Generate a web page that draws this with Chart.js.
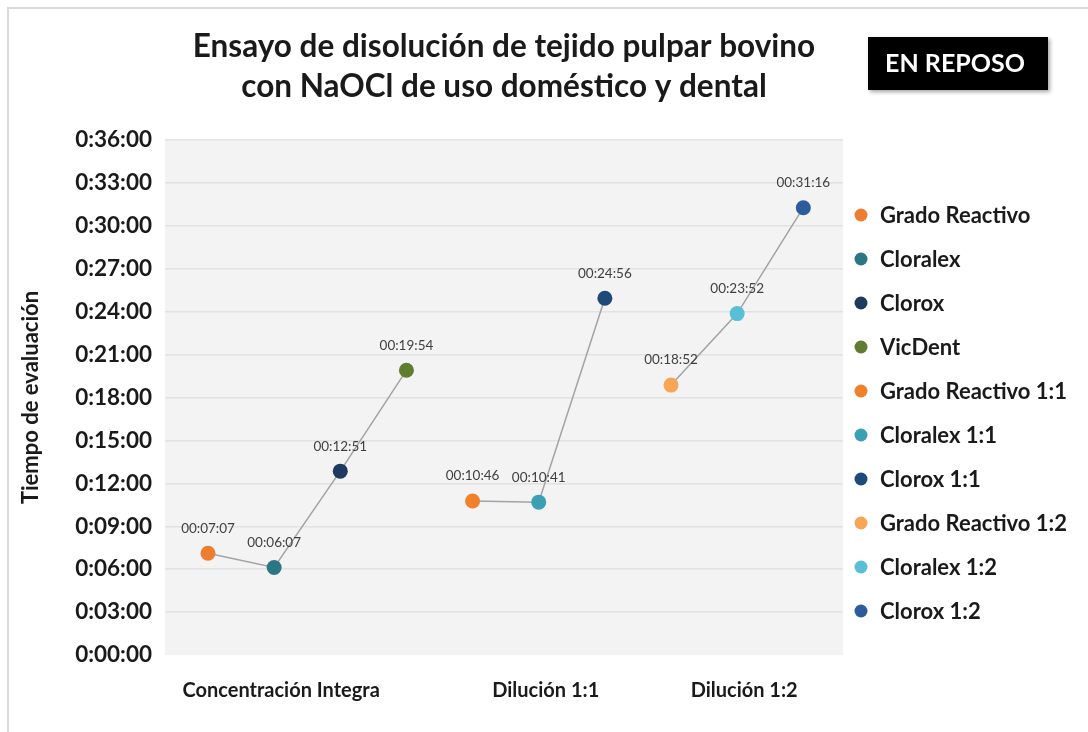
<!DOCTYPE html>
<html>
<head>
<meta charset="utf-8">
<script src="https://cdn.jsdelivr.net/npm/chart.js@4.4.1/dist/chart.umd.min.js"></script>
<style>
  html, body { margin:0; padding:0; background:#fff; }
  #wrap { position:relative; width:1088px; height:732px; }
</style>
</head>
<body>
<div id="wrap"><canvas id="chart"></canvas></div>
<script>
// Datos
const series = ["Grado Reactivo", "Cloralex", "Clorox", "VicDent",
  "Grado Reactivo 1:1", "Cloralex 1:1", "Clorox 1:1",
  "Grado Reactivo 1:2", "Cloralex 1:2", "Clorox 1:2"];
const tiempos = ["00:07:07", "00:06:07", "00:12:51", "00:19:54",
  "00:10:46", "00:10:41", "00:24:56",
  "00:18:52", "00:23:52", "00:31:16"];
const grupo = [0, 0, 0, 0, 1, 1, 1, 2, 2, 2];
const grupos = ["Concentración Integra", "Dilución 1:1", "Dilución 1:2"];
const colores = ["#ED7D31", "#2A7683", "#1F3A5F", "#5E7D31",
  "#EE8129", "#3CA0B5", "#1E4A7A",
  "#F6A656", "#59BFD6", "#2C5C9A"];
const yTicksMax = 36 * 60, yTicksStep = 3 * 60;

const FONT = "Lato";
const toSec = t => t.split(":").reduce((a, v) => a * 60 + Number(v), 0);
const fmtTick = v => Math.floor(v / 3600) + ":" +
  String(Math.floor(v % 3600 / 60)).padStart(2, "0") + ":" + String(v % 60).padStart(2, "0");

// un dataset por punto (leyenda) + una linea gris por grupo
const datasets = series.map((s, i) => ({
  label: s,
  data: [{ x: i, y: toSec(tiempos[i]) }],
  showLine: false,
  pointRadius: 7.5,
  pointHoverRadius: 7.5,
  pointBackgroundColor: colores[i],
  pointBorderWidth: 0,
  backgroundColor: colores[i],
  order: 0,
  etiqueta: tiempos[i]
}));
grupos.forEach((g, k) => {
  datasets.push({
    label: "_linea" + k,
    data: series.map((s, i) => ({ x: i, y: toSec(tiempos[i]) })).filter((p, i) => grupo[i] === k),
    showLine: true,
    borderColor: "#A3A3A3",
    borderWidth: 1.5,
    pointRadius: 0,
    order: 1
  });
});

const fondo = {
  id: "fondo",
  beforeDraw(chart) {
    const { ctx, chartArea: a } = chart;
    ctx.save();
    ctx.fillStyle = "#fff";
    ctx.fillRect(0, 0, chart.width, chart.height);
    ctx.strokeStyle = "#DADADA";
    ctx.lineWidth = 2;
    ctx.beginPath();
    ctx.moveTo(8, chart.height); ctx.lineTo(8, 8); ctx.lineTo(chart.width, 8);
    ctx.stroke();
    ctx.fillStyle = "#F3F3F3";
    ctx.fillRect(a.left, a.top, a.right - a.left, a.bottom - a.top);
    ctx.restore();
  }
};

const etiquetas = {
  id: "etiquetas",
  afterDatasetsDraw(chart) {
    const ctx = chart.ctx;
    ctx.save();
    ctx.font = "13.5px " + FONT;
    ctx.fillStyle = "#404040";
    ctx.textAlign = "center";
    ctx.textBaseline = "middle";
    chart.data.datasets.forEach((d, i) => {
      if (!d.etiqueta) return;
      const p = chart.getDatasetMeta(i).data[0];
      ctx.fillText(d.etiqueta, p.x, p.y - 25);
    });
    ctx.restore();
  }
};

const leyenda = {
  id: "leyenda",
  afterDraw(chart) {
    const ctx = chart.ctx;
    const x0 = chart.chartArea.right + 18, y0 = 215, paso = 44;
    ctx.save();
    ctx.font = "bold 22px " + FONT;
    ctx.textBaseline = "middle";
    ctx.textAlign = "left";
    chart.data.datasets.filter(d => d.etiqueta).forEach((d, i) => {
      const y = y0 + i * paso;
      ctx.fillStyle = d.backgroundColor;
      ctx.beginPath();
      ctx.arc(x0, y, 6.5, 0, Math.PI * 2);
      ctx.fill();
      ctx.fillStyle = "#1A1A1A";
      ctx.fillText(d.label, x0 + 19, y + 1);
    });
    // recuadro "EN REPOSO"
    ctx.save();
    ctx.shadowColor = "rgba(0,0,0,0.35)";
    ctx.shadowBlur = 4;
    ctx.shadowOffsetX = 2;
    ctx.shadowOffsetY = 2;
    ctx.fillStyle = "#000";
    ctx.fillRect(868, 37, 180, 53);
    ctx.restore();
    ctx.fillStyle = "#fff";
    ctx.font = "bold 25px " + FONT;
    ctx.textAlign = "center";
    ctx.fillText("EN REPOSO", 955, 64);
    ctx.restore();
  }
};

new Chart(document.getElementById("chart"), {
  type: "scatter",
  data: { datasets },
  plugins: [fondo, etiquetas, leyenda],
  options: {
    responsive: true,
    maintainAspectRatio: false,
    animation: false,
    events: [],
    layout: { padding: { left: 0, right: 245, top: 0, bottom: 0 } },
    plugins: {
      legend: { display: false },
      tooltip: { enabled: false },
      title: {
        display: true,
        fullSize: false,
        text: ["Ensayo de disolución de tejido pulpar bovino", "con NaOCl de uso doméstico y dental"],
        color: "#1A1A1A",
        font: { family: FONT, size: 31.5, weight: "bold", lineHeight: 40 / 31.5 },
        padding: { top: 27, bottom: 33 }
      }
    },
    scales: {
      x: {
        type: "linear",
        min: -0.65,
        max: 9.6,
        grid: { display: false },
        border: { display: false },
        afterFit: s => { s.height = 77; },
        afterBuildTicks: s => {
          s.ticks = grupos.map((g, k) => {
            const idx = grupo.map((v, i) => v === k ? i : null).filter(v => v !== null);
            return { value: Math.floor(idx.reduce((a, b) => a + b, 0) / idx.length), label: g };
          });
        },
        ticks: {
          padding: 16,
          labelOffset: 7,
          color: "#1A1A1A",
          font: { family: FONT, size: 20, weight: "bold" },
          callback: function (v) {
            const k = this.ticks.findIndex(t => t.value === v);
            return k >= 0 ? this.ticks[k].label : "";
          }
        }
      },
      y: {
        min: 0,
        max: yTicksMax,
        afterFit: s => { s.width = 165; },
        border: { display: false },
        grid: {
          drawTicks: false,
          lineWidth: 1.5,
          color: c => c.tick.value === 0 ? "rgba(0,0,0,0)" : "#E2E2E2"
        },
        ticks: {
          stepSize: yTicksStep,
          padding: 13,
          color: "#1A1A1A",
          font: { family: FONT, size: 22.5, weight: "bold" },
          callback: v => fmtTick(v)
        },
        title: {
          display: true,
          text: "Tiempo de evaluación",
          color: "#1A1A1A",
          font: { family: FONT, size: 22, weight: "bold" },
          padding: { top: 18, bottom: 0 }
        }
      }
    }
  }
});
</script>
</body>
</html>
